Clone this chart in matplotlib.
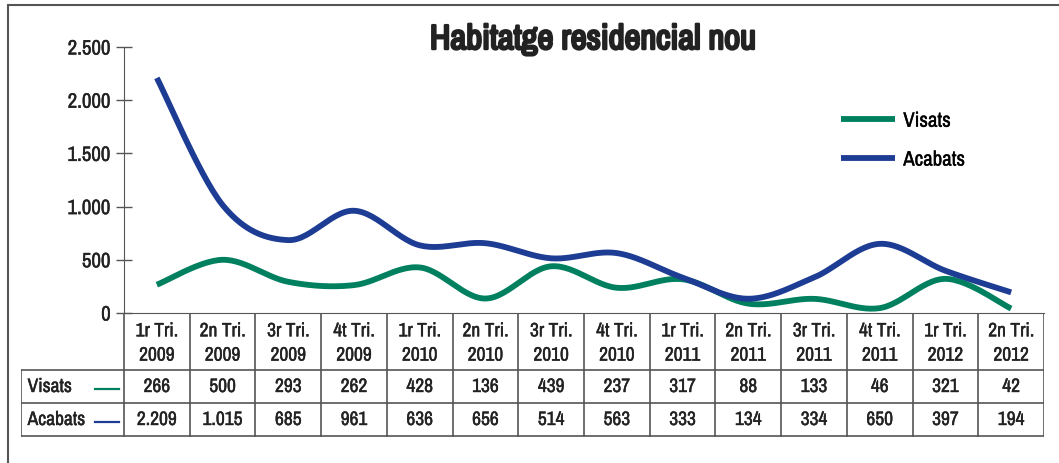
import matplotlib
matplotlib.use("Agg")
import matplotlib.pyplot as plt
import numpy as np
from matplotlib.patches import Rectangle
from matplotlib import font_manager as fm
import matplotlib.patheffects as pe

# look for a narrow font, the original uses a condensed face
narrow = [f for f in fm.fontManager.ttflist
          if 'Narrow' in f.name or 'Condensed' in f.name or f.stretch in ('condensed', 'semi-condensed')]
fams = sorted({f.name for f in narrow})
plt.rcParams['font.family'] = (fams[:1] if fams else []) + ['DejaVu Sans']
plt.rcParams['font.stretch'] = 'condensed'

quarters = ['1r Tri.\n2009', '2n Tri.\n2009', '3r Tri.\n2009', '4t Tri.\n2009',
            '1r Tri.\n2010', '2n Tri.\n2010', '3r Tri.\n2010', '4t Tri.\n2010',
            '1r Tri.\n2011', '2n Tri.\n2011', '3r Tri.\n2011', '4t Tri.\n2011',
            '1r Tri.\n2012', '2n Tri.\n2012']
visats = [266, 500, 293, 262, 428, 136, 439, 237, 317, 88, 133, 46, 321, 42]
acabats = [2209, 1015, 685, 961, 636, 656, 514, 563, 333, 134, 334, 650, 397, 194]
series = [('Visats', visats, '#00805f'), ('Acabats', acabats, '#1d3c93')]
yticks = [0, 500, 1000, 1500, 2000, 2500]

W, H = 1059, 464
txt = '#222222'
thick = [pe.withStroke(linewidth=0.3, foreground=txt)]


def fmt(v):
    return f'{v:,}'.replace(',', '.')


def smooth(y, n=30):
    # bezier smoothing like a spreadsheet "smoothed line"
    y = np.asarray(y, float)
    x = np.arange(len(y), dtype=float)
    P = np.column_stack([x, y])
    Pext = np.vstack([P[0], P, P[-1]])
    out = []
    t = np.linspace(0, 1, n)[:, None]
    for i in range(len(P) - 1):
        p0, p3 = P[i], P[i + 1]
        c1 = p0 + (Pext[i + 2] - Pext[i]) / 6
        c2 = p3 - (Pext[i + 3] - Pext[i + 1]) / 6
        seg = ((1 - t) ** 3) * p0 + 3 * ((1 - t) ** 2) * t * c1 + 3 * (1 - t) * t ** 2 * c2 + t ** 3 * p3
        out.append(seg if i == 0 else seg[1:])
    s = np.vstack(out)
    return s[:, 0], s[:, 1]


fig = plt.figure(figsize=(W / 100, H / 100), dpi=100)

# outer border
fig.add_artist(Rectangle((8 / W, -0.1), 1.2, (H - 6) / H + 0.1, transform=fig.transFigure,
                         fill=False, edgecolor='#555555', lw=1.5))

x0, x1 = 124, 1044
ytop, ybot = 48, 314
ax = fig.add_axes([x0 / W, (H - ybot) / H, (x1 - x0) / W, (ybot - ytop) / H])
ax.set_xlim(-0.5, len(quarters) - 0.5)
ax.set_ylim(0, 2500)

for name, vals, col in series:
    sx, sy = smooth(vals)
    ax.plot(sx, sy, color=col, lw=4.2, solid_capstyle='butt', label=name, clip_on=False)

for s in ['top', 'right']:
    ax.spines[s].set_visible(False)
ax.spines['left'].set_color('#555555')
ax.spines['bottom'].set_color('#555555')
ax.set_yticks(yticks)
ax.set_yticklabels([fmt(v) for v in yticks], fontsize=15, color=txt)
for lab in ax.get_yticklabels():
    lab.set_path_effects(thick)
ax.tick_params(axis='y', direction='inout', length=11, width=1, color='#555555', pad=4)
ax.set_xticks([])

leg = ax.legend(loc='upper left', bbox_to_anchor=(822 / W, (H - 94) / H), bbox_transform=fig.transFigure,
                frameon=False, fontsize=15, handlelength=2.6, labelspacing=0.95, handletextpad=0.4)
for t in leg.get_texts():
    t.set_path_effects(thick)

fig.text(593 / W, (H - 40) / H, 'Habitatge residencial nou', ha='center', va='center',
         fontsize=25, fontweight='bold', color=txt,
         path_effects=[pe.withStroke(linewidth=1.8, foreground=txt)])

# data table below the axis
left = 21
colw = (x1 - x0) / len(quarters)
tx = fig.add_axes([left / W, 0, (x1 - left) / W, (H - ybot) / H])
tx.set_xlim(-0.5 - (x0 - left) / colw, len(quarters) - 0.5)
tx.set_ylim(H - ybot, 0)
tx.axis('off')
gc = '#555555'
r0, r1, r2, r3 = 0, 371 - ybot, 404 - ybot, 437 - ybot
edges = np.arange(len(quarters) + 1) - 0.5
for e in edges:
    tx.plot([e, e], [r0, r3], color=gc, lw=1.2)
xl = -0.5 - (x0 - left) / colw
tx.plot([xl, xl], [r1, r3], color=gc, lw=1.2)
for r in (r1, r2, r3):
    tx.plot([xl, edges[-1]], [r, r], color=gc, lw=1.2)
for i, q in enumerate(quarters):
    tx.text(i, (r0 + r1) / 2 + 1.5, q, ha='center', va='center', fontsize=14,
            color=txt, linespacing=1.35, path_effects=thick)
for (name, vals, col), (ra, rb) in zip(series, [(r1, r2), (r2, r3)]):
    ym = (ra + rb) / 2
    tx.text(xl + 0.1, ym, name, ha='left', va='center', fontsize=14, color=txt, path_effects=thick)
    tx.plot([xl + (95 - left) / colw, xl + (119 - left) / colw], [ym + 2, ym + 2], color=col, lw=1.6)
    for i, v in enumerate(vals):
        tx.text(i, ym, fmt(v), ha='center', va='center', fontsize=14, color=txt, path_effects=thick)

fig.savefig('out.png', dpi=100)
